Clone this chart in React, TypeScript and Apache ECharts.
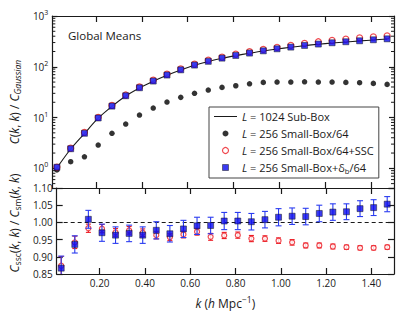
import React, { useEffect, useRef } from 'react';
import * as echarts from 'echarts';

const kValues = [0.03, 0.09, 0.15, 0.21, 0.27, 0.33, 0.39, 0.45, 0.51, 0.57, 0.63, 0.69, 0.75, 0.81, 0.87, 0.93, 0.99, 1.05, 1.11, 1.17, 1.23, 1.29, 1.35, 1.41, 1.47];
const subBox = [1.02, 2.4, 4.85, 9.7, 16.6, 26.6, 38.3, 52, 68.3, 86.5, 107, 127, 147, 166, 185, 205, 224, 242, 261, 278, 294, 308, 323, 337, 352];
const smallBox = [0.93, 1.35, 1.69, 2.88, 4.89, 7.45, 11.2, 15.4, 20.2, 25, 30, 34.8, 39.3, 42.3, 46.3, 49.3, 50, 50, 50.7, 50, 50, 49.3, 48.5, 47.1, 45];
const smallBoxSSC = [1.06, 2.5, 5.1, 10.1, 17.3, 27.8, 40, 54.5, 71.5, 91, 113, 135, 155, 178, 198, 220, 242, 264, 289, 311, 331, 351, 372, 388, 407];
const smallBoxDb = [1.05, 2.43, 4.9, 9.8, 16.8, 26.9, 38.6, 52.3, 68.7, 87, 108, 128, 148, 167, 186, 206, 226, 244, 263, 280, 297, 311, 325, 340, 355];

const ratioSSC = [0.874, 0.942, 0.983, 0.982, 0.971, 0.977, 0.970, 0.963, 0.957, 0.965, 0.973, 0.958, 0.962, 0.963, 0.953, 0.953, 0.947, 0.942, 0.933, 0.933, 0.930, 0.928, 0.926, 0.926, 0.928];
const ratioSSCErr = [0.027, 0.018, 0.012, 0.012, 0.011, 0.011, 0.011, 0.011, 0.010, 0.010, 0.010, 0.010, 0.009, 0.009, 0.009, 0.008, 0.008, 0.008, 0.007, 0.007, 0.007, 0.006, 0.006, 0.006, 0.006];
const ratioDb = [0.867, 0.936, 1.009, 0.970, 0.963, 0.968, 0.963, 0.977, 0.967, 0.981, 0.990, 0.991, 1.004, 1.004, 1.002, 1.008, 1.015, 1.018, 1.017, 1.026, 1.030, 1.031, 1.040, 1.043, 1.053];
const ratioDbErr = [0.035, 0.025, 0.026, 0.025, 0.024, 0.024, 0.024, 0.025, 0.024, 0.025, 0.025, 0.024, 0.025, 0.025, 0.024, 0.024, 0.025, 0.024, 0.024, 0.024, 0.024, 0.023, 0.023, 0.023, 0.022];

const xTicks = [0.2, 0.4, 0.6, 0.8, 1.0, 1.2, 1.4];
const logMinorTicks = [0.5, 0.6, 0.7, 0.8, 0.9, 2, 3, 4, 5, 6, 7, 8, 9, 20, 30, 40, 50, 60, 70, 80, 90, 200, 300, 400, 500, 600, 700, 800, 900];

const legendLabels: Record<string, string> = {
  sub: '{i|L}{t| = 1024 Sub-Box}',
  small: '{i|L}{t| = 256 Small-Box/64}',
  ssc: '{i|L}{t| = 256 Small-Box/64+SSC}',
  db: '{i|L}{t| = 256 Small-Box+δ}{sub|b}{t|/64}',
};

const FONT = "'Open Sans', sans-serif";
const INK = '#1a1a1a';
const BLUE = '#0a0aee';
const RED = '#ec1c24';

function richSet(size: number) {
  return {
    t: { fontFamily: FONT, fontSize: size, color: INK, lineHeight: size + 4 },
    i: { fontFamily: FONT, fontSize: size, color: INK, fontStyle: 'italic', lineHeight: size + 4 },
    sub: { fontFamily: FONT, fontSize: size - 3.5, color: INK, lineHeight: size - 3, verticalAlign: 'bottom' },
    subi: { fontFamily: FONT, fontSize: size - 3.5, color: INK, fontStyle: 'italic', lineHeight: size - 3, verticalAlign: 'bottom' },
    sup: { fontFamily: FONT, fontSize: size - 3.5, color: INK, lineHeight: size - 3, verticalAlign: 'top' },
  };
}

function errorBarItem(color: string, cap: number) {
  return (params: any, api: any) => {
    const x = api.value(0);
    const lo = api.value(1);
    const hi = api.value(2);
    const top = api.coord([x, hi]);
    const bot = api.coord([x, lo]);
    const style = { stroke: color, lineWidth: 1.1 };
    return {
      type: 'group',
      children: [
        { type: 'line', shape: { x1: top[0], y1: top[1], x2: bot[0], y2: bot[1] }, style },
        { type: 'line', shape: { x1: top[0] - cap, y1: top[1], x2: top[0] + cap, y2: top[1] }, style },
        { type: 'line', shape: { x1: bot[0] - cap, y1: bot[1], x2: bot[0] + cap, y2: bot[1] }, style },
      ],
    };
  };
}

export default function App() {
  const ref = useRef<HTMLDivElement>(null);
  useEffect(() => {
    if (!ref.current) return;
    const chart = echarts.init(ref.current, undefined, { renderer: 'svg' });
    const axisLine = { show: true, lineStyle: { color: INK, width: 1.2 } };
    const tickLine = { color: INK, width: 1.2 };
    const xBase = (gridIndex: number, position: string) => ({
      type: 'value',
      gridIndex,
      position,
      min: 0.01,
      max: 1.5,
      splitNumber: 7,
      axisLine,
      axisTick: { show: true, inside: true, length: 6, interval: 0, customValues: xTicks, lineStyle: tickLine },
      axisLabel: { show: false },
      splitLine: { show: false },
    });
    const option: any = {
      animation: false,
      title: {
        text: 'Global Means',
        left: 68,
        top: 29,
        padding: 0,
        textStyle: { fontFamily: FONT, fontSize: 11.5, fontWeight: 'normal', color: INK },
      },
      grid: [
        { left: 52, top: 16, width: 342, height: 172 },
        { left: 52, top: 188, width: 342, height: 86 },
      ],
      xAxis: [
        xBase(0, 'bottom'),
        xBase(0, 'top'),
        {
          ...xBase(1, 'bottom'),
          axisLabel: {
            show: true,
            customValues: xTicks,
            interval: 0,
            hideOverlap: false,
            formatter: (v: number) => v.toFixed(2),
            fontFamily: FONT,
            fontSize: 10,
            color: INK,
            margin: 4,
          },
          name: '{i|k}{t| (}{i|h}{t| Mpc}{sup|−1}{t|)}',
          nameLocation: 'middle',
          nameGap: 21,
          nameTextStyle: { rich: richSet(12) },
        },
        xBase(1, 'top'),
      ],
      yAxis: [
        {
          type: 'log',
          gridIndex: 0,
          position: 'left',
          logBase: 10,
          min: 0.41,
          max: 1000,
          axisLine,
          axisTick: { show: true, inside: true, length: 5, lineStyle: tickLine },
          axisLabel: {
            margin: 4,
            formatter: (v: number) => {
              const l = Math.log10(v);
              const e = Math.round(l);
              if (Math.abs(l - e) > 1e-6) return '';
              return '{b|10}{s|' + e + '}';
            },
            rich: {
              b: { fontFamily: FONT, fontSize: 10, color: INK, lineHeight: 14 },
              s: { fontFamily: FONT, fontSize: 7, color: INK, lineHeight: 8, verticalAlign: 'top' },
            },
          },
          splitLine: { show: false },
          name: '{i|C}{t|(}{i|k}{t|, }{i|k}{t|) / }{i|C}{subi|Gaussian}',
          nameLocation: 'middle',
          nameRotate: 90,
          nameGap: 24,
          nameTextStyle: { rich: richSet(12) },
        },
        {
          type: 'log',
          gridIndex: 0,
          position: 'right',
          logBase: 10,
          min: 0.41,
          max: 1000,
          axisLine,
          axisTick: { show: true, inside: true, length: 5, lineStyle: tickLine },
          axisLabel: { show: false },
          splitLine: { show: false },
        },
        {
          type: 'value',
          gridIndex: 1,
          position: 'left',
          min: 0.85,
          max: 1.1,
          interval: 0.05,
          axisLine,
          axisTick: { show: true, inside: true, length: 6, lineStyle: tickLine },
          axisLabel: {
            margin: 4,
            formatter: (v: number) => v.toFixed(2),
            fontFamily: FONT,
            fontSize: 10,
            color: INK,
          },
          splitLine: { show: false },
          name: '{i|C}{sub|ssc}{t|(}{i|k}{t|, }{i|k}{t|) / }{i|C}{sub|sm}{t|(}{i|k}{t|, }{i|k}{t|)}',
          nameLocation: 'middle',
          nameRotate: 90,
          nameGap: 24,
          nameTextStyle: { rich: richSet(12), padding: [0, 0, 0, 16] },
        },
        {
          type: 'value',
          gridIndex: 1,
          position: 'right',
          min: 0.85,
          max: 1.1,
          interval: 0.05,
          axisLine,
          axisTick: { show: true, inside: true, length: 6, lineStyle: tickLine },
          axisLabel: { show: false },
          splitLine: { show: false },
        },
      ],
      legend: {
        orient: 'vertical',
        left: 209,
        top: 107,
        padding: [2, 5, 3, 5],
        itemWidth: 23,
        itemHeight: 6,
        itemGap: 2,
        borderColor: '#444',
        borderWidth: 1,
        borderRadius: 0,
        backgroundColor: '#fff',
        selectedMode: false,
        symbolKeepAspect: true,
        data: [
          { name: 'sub', icon: 'path://M0,0H23V1H0Z' },
          { name: 'small', icon: 'circle' },
          { name: 'ssc', icon: 'circle', itemStyle: { borderWidth: 1.2 } },
          { name: 'db', icon: 'path://M0,0H10V10H0Z', itemStyle: { borderWidth: 0.6 } },
        ],
        formatter: (name: string) => legendLabels[name],
        textStyle: { fontFamily: FONT, fontSize: 11, color: INK, lineHeight: 14, rich: richSet(11) },
      },
      series: [
        {
          name: 'sub',
          type: 'line',
          xAxisIndex: 0,
          yAxisIndex: 0,
          data: kValues.map((k, i) => [k, subBox[i]]),
          symbol: 'none',
          showSymbol: false,
          smooth: 0.3,
          lineStyle: { color: INK, width: 1.1 },
          itemStyle: { color: INK },
          z: 2,
        },
        {
          name: 'small',
          type: 'scatter',
          xAxisIndex: 0,
          yAxisIndex: 0,
          data: kValues.map((k, i) => [k, smallBox[i]]),
          symbol: 'circle',
          symbolSize: 5.5,
          itemStyle: { color: '#000' },
          z: 3,
        },
        {
          name: 'ssc',
          type: 'scatter',
          xAxisIndex: 0,
          yAxisIndex: 0,
          data: kValues.map((k, i) => [k, smallBoxSSC[i]]),
          symbol: 'circle',
          symbolSize: 6,
          itemStyle: { color: '#fff', borderColor: RED, borderWidth: 1.2 },
          z: 3,
        },
        {
          name: 'db',
          type: 'scatter',
          xAxisIndex: 0,
          yAxisIndex: 0,
          data: kValues.map((k, i) => [k, smallBoxDb[i]]),
          symbol: 'rect',
          symbolSize: 6,
          symbolKeepAspect: true,
          itemStyle: { color: BLUE, borderColor: '#111', borderWidth: 0.6 },
          z: 4,
        },
        {
          name: 'minorTicks',
          type: 'custom',
          xAxisIndex: 0,
          yAxisIndex: 0,
          silent: true,
          encode: { x: 0, y: 1 },
          data: logMinorTicks.map((v) => [0.01, v]),
          renderItem: (params: any, api: any) => {
            const cs = params.coordSys;
            const y = api.coord([api.value(0), api.value(1)])[1];
            const style = { stroke: INK, lineWidth: 1 };
            return {
              type: 'group',
              children: [
                { type: 'line', shape: { x1: cs.x, y1: y, x2: cs.x + 3, y2: y }, style },
                { type: 'line', shape: { x1: cs.x + cs.width - 3, y1: y, x2: cs.x + cs.width, y2: y }, style },
              ],
            };
          },
          z: 5,
        },
        {
          name: 'sscErr',
          type: 'custom',
          xAxisIndex: 2,
          yAxisIndex: 2,
          clip: true,
          encode: { x: 0, y: [1, 2] },
          data: kValues.map((k, i) => [k, ratioSSC[i] - ratioSSCErr[i], ratioSSC[i] + ratioSSCErr[i]]),
          renderItem: errorBarItem(RED, 2.5),
          z: 2,
        },
        {
          name: 'sscRatio',
          type: 'scatter',
          xAxisIndex: 2,
          yAxisIndex: 2,
          data: kValues.map((k, i) => [k, ratioSSC[i]]),
          symbol: 'circle',
          symbolSize: 5,
          itemStyle: { color: '#fff', borderColor: RED, borderWidth: 1.2 },
          z: 3,
        },
        {
          name: 'dbErr',
          type: 'custom',
          xAxisIndex: 2,
          yAxisIndex: 2,
          clip: true,
          encode: { x: 0, y: [1, 2] },
          data: kValues.map((k, i) => [k, ratioDb[i] - ratioDbErr[i], ratioDb[i] + ratioDbErr[i]]),
          renderItem: errorBarItem('#2a3cf0', 3),
          z: 4,
        },
        {
          name: 'dbRatio',
          type: 'scatter',
          xAxisIndex: 2,
          yAxisIndex: 2,
          data: kValues.map((k, i) => [k, ratioDb[i]]),
          symbol: 'rect',
          symbolSize: 6,
          itemStyle: { color: BLUE, borderColor: '#111', borderWidth: 0.6 },
          markLine: {
            silent: true,
            symbol: 'none',
            label: { show: false },
            lineStyle: { color: INK, type: [4, 3], width: 1.2 },
            data: [{ yAxis: 1.0 }],
            z: 1,
          },
          z: 5,
        },
      ],
    };
    chart.setOption(option);
    return () => chart.dispose();
  }, []);
  return <div ref={ref} style={{ position: 'absolute', left: 0, top: 0, width: 415, height: 312, background: '#fff' }} />;
}
